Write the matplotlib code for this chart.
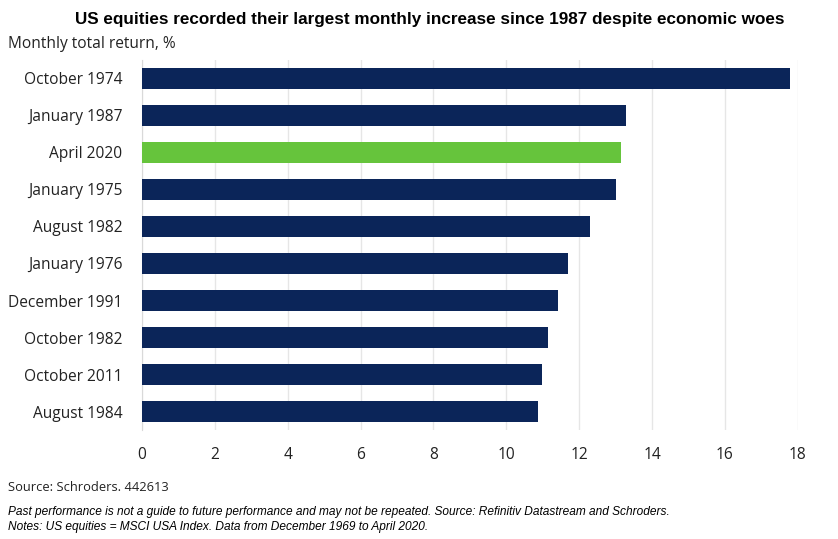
import matplotlib
matplotlib.use("Agg")
import matplotlib.pyplot as plt

# months with the largest monthly gains, top to bottom
labels = ["October 1974", "January 1987", "April 2020", "January 1975", "August 1982",
          "January 1976", "December 1991", "October 1982", "October 2011", "August 1984"]
returns = [17.8, 13.28, 13.15, 13.01, 12.3, 11.69, 11.41, 11.14, 10.98, 10.88]
highlight = "April 2020"
xticks = [0, 2, 4, 6, 8, 10, 12, 14, 16, 18]

navy = "#0b2559"
green = "#66c43c"
colors = [green if l == highlight else navy for l in labels]

fig = plt.figure(figsize=(8.38, 5.39), dpi=100)
ax = fig.add_axes([0.1695, 0.202, 0.7825, 0.687])

ypos = list(range(len(labels)))
ax.barh(ypos, returns, height=0.55, color=colors, zorder=3)
ax.set_ylim(len(labels) - 0.5, -0.5)
ax.set_xlim(0, 18)
ax.set_yticks(ypos)
ax.set_yticklabels(labels, fontfamily="Open Sans", fontsize=11.2, color="#222222")
ax.set_xticks(xticks)
ax.set_xticklabels([str(t) for t in xticks], fontfamily="Open Sans", fontsize=11.2, color="#222222")
ax.tick_params(axis="y", length=0, pad=14)
ax.tick_params(axis="x", length=0, pad=12)
ax.grid(axis="x", color="#e6e6e6", linewidth=1, zorder=0)
for s in ["top", "right", "bottom"]:
    ax.spines[s].set_visible(False)
ax.spines["left"].set_color("#d9d9d9")

fig.text(0.513, 0.963, "US equities recorded their largest monthly increase since 1987 despite economic woes",
         ha="center", va="center", fontfamily="Liberation Sans", fontweight="bold", fontsize=12.35)
fig.text(0.01, 0.918, "Monthly total return, %", ha="left", va="center",
         fontfamily="Open Sans", fontsize=11.2, color="#222222")
fig.text(0.01, 0.095, "Source: Schroders. 442613", ha="left", va="center",
         fontfamily="Open Sans", fontsize=9.3, color="#222222")
fig.text(0.01, 0.05, "Past performance is not a guide to future performance and may not be repeated. Source: Refinitiv Datastream and Schroders.",
         ha="left", va="center", fontfamily="Liberation Sans", style="italic", fontsize=8.6)
fig.text(0.01, 0.022, "Notes: US equities = MSCI USA Index. Data from December 1969 to April 2020.",
         ha="left", va="center", fontfamily="Liberation Sans", style="italic", fontsize=8.6)

fig.savefig("out.png", dpi=100)
